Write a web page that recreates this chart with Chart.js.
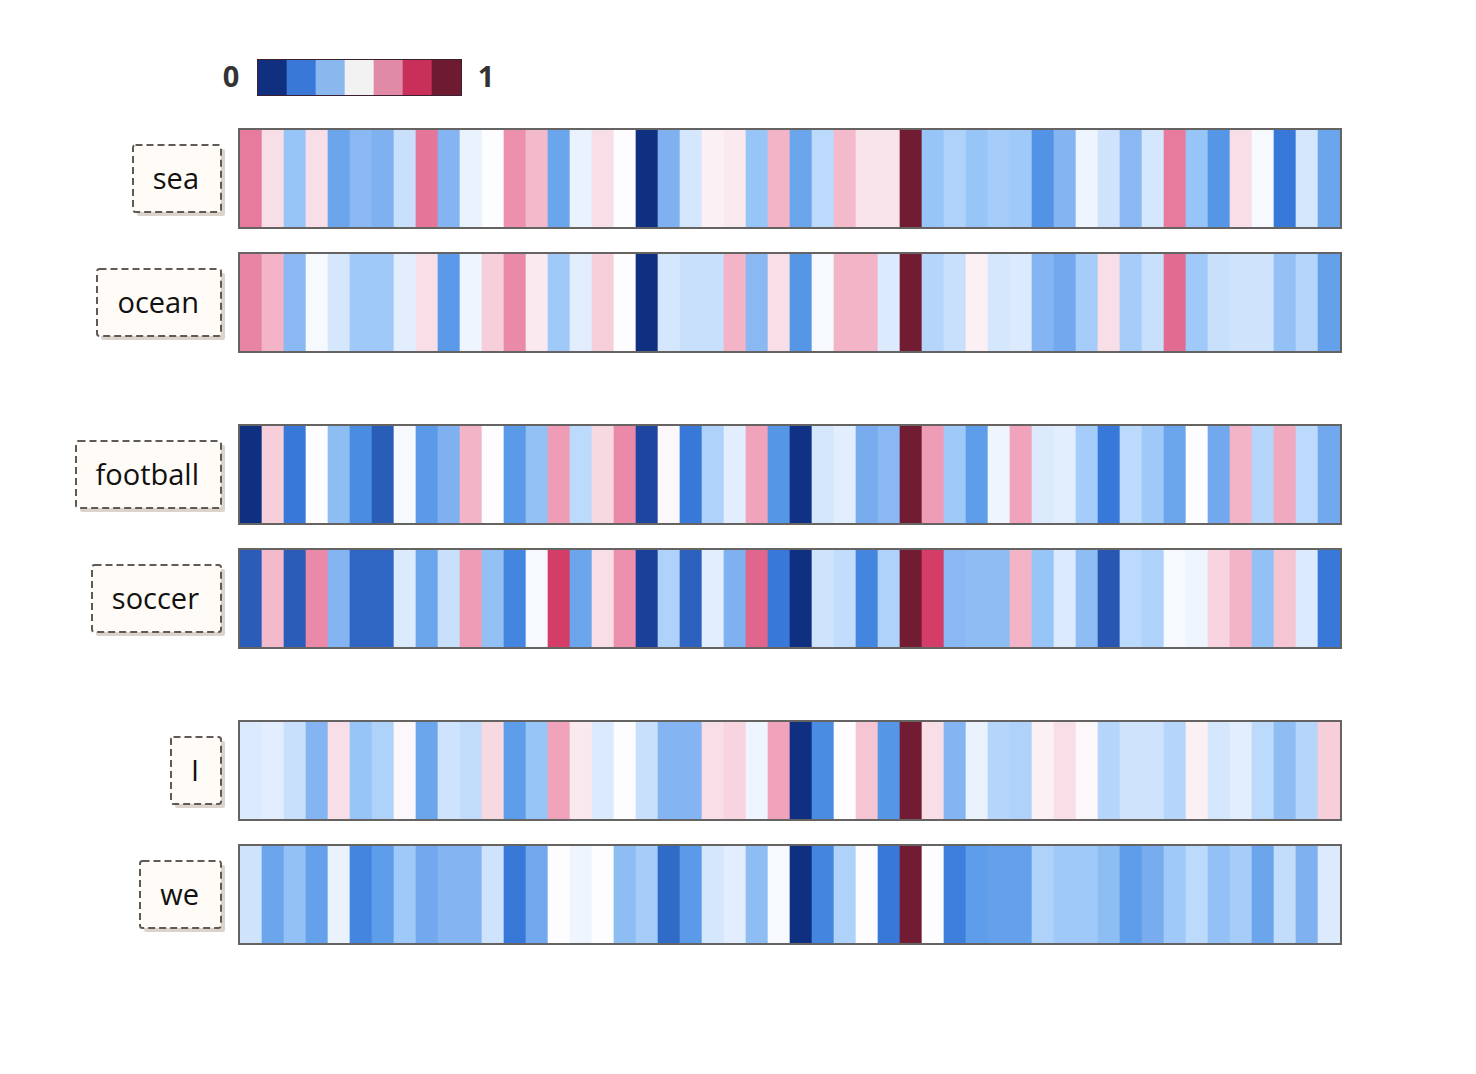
<!DOCTYPE html>
<html>
<head>
<meta charset="utf-8">
<script src="https://cdn.jsdelivr.net/npm/chart.js@4.4.0/dist/chart.umd.min.js"></script>
<style>
  html, body { margin:0; padding:0; background:#ffffff; width:1476px; height:1074px; overflow:hidden;
    font-family:"Open Sans", "Noto Sans", sans-serif; }
  .strip { position:absolute; left:238px; }
  .lbl { position:absolute; right:1255px; height:69px; box-sizing:border-box; padding:0 22px;
    font-size:29px; line-height:67px; color:#111; white-space:nowrap; z-index:2; }
  .box { position:absolute; z-index:1; overflow:visible; }
  .tick { position:absolute; top:56px; width:40px; text-align:center; font-size:29px; font-weight:bold;
    color:#333; line-height:40px; }
</style>
</head>
<body>
<div class="tick" style="left:211px">0</div>
<div class="tick" style="left:466px">1</div>
<canvas id="legend" width="205" height="37" style="position:absolute;left:257px;top:59px"></canvas>
<script>
// ---- data ----
const words = ["sea", "ocean", "football", "soccer", "I", "we"];
const dims = Array.from({length: 50}, (_, i) => "d" + (i + 1));

const seaVals = [0.73,0.55,0.35,0.55,0.27,0.32,0.30,0.42,0.74,0.31,0.47,0.50,0.69,0.62,0.27,0.47,0.55,0.50,0.00,0.30,
                 0.44,0.52,0.53,0.35,0.63,0.27,0.40,0.62,0.54,0.54,1.00,0.35,0.38,0.35,0.37,0.36,0.22,0.31,0.48,0.43,
                 0.32,0.44,0.73,0.35,0.23,0.55,0.49,0.17,0.44,0.27];
const oceanVals = [0.71,0.63,0.32,0.49,0.44,0.36,0.36,0.46,0.55,0.24,0.48,0.58,0.70,0.53,0.36,0.46,0.58,0.50,0.00,0.44,
                   0.42,0.42,0.63,0.32,0.55,0.23,0.49,0.63,0.63,0.45,1.00,0.39,0.42,0.52,0.44,0.45,0.31,0.28,0.37,0.55,
                   0.37,0.42,0.76,0.36,0.42,0.43,0.43,0.34,0.39,0.26];
const footballVals = [0.00,0.58,0.17,0.50,0.33,0.20,0.11,0.49,0.24,0.30,0.63,0.50,0.24,0.34,0.67,0.40,0.56,0.70,0.07,0.51,
                      0.17,0.38,0.46,0.66,0.23,0.01,0.44,0.46,0.29,0.32,1.00,0.67,0.36,0.25,0.48,0.66,0.45,0.46,0.37,0.17,
                      0.40,0.36,0.27,0.50,0.28,0.63,0.39,0.65,0.40,0.28];
const soccerVals = [0.11,0.62,0.11,0.70,0.31,0.13,0.13,0.45,0.27,0.42,0.67,0.34,0.19,0.49,0.82,0.27,0.55,0.69,0.06,0.38,
                    0.12,0.46,0.30,0.77,0.17,0.00,0.43,0.41,0.19,0.38,1.00,0.82,0.32,0.33,0.33,0.63,0.35,0.45,0.33,0.10,
                    0.40,0.38,0.49,0.48,0.57,0.63,0.34,0.60,0.45,0.17];
const iVals = [0.45,0.46,0.42,0.31,0.55,0.35,0.38,0.51,0.27,0.43,0.41,0.56,0.25,0.35,0.66,0.53,0.45,0.50,0.42,0.31,
               0.31,0.55,0.57,0.48,0.66,0.00,0.20,0.50,0.60,0.23,1.00,0.55,0.31,0.47,0.39,0.38,0.52,0.55,0.51,0.39,
               0.43,0.43,0.39,0.52,0.44,0.46,0.40,0.33,0.39,0.58];
const weVals = [0.43,0.27,0.34,0.26,0.47,0.19,0.25,0.36,0.28,0.31,0.31,0.43,0.17,0.28,0.50,0.48,0.50,0.33,0.37,0.14,
                0.24,0.44,0.46,0.33,0.49,0.00,0.19,0.38,0.50,0.17,1.00,0.50,0.18,0.25,0.26,0.26,0.38,0.36,0.36,0.33,
                0.25,0.29,0.36,0.40,0.34,0.37,0.27,0.41,0.30,0.45];

const legendTicks = ["0", "1"];
const legendBins = ["b1","b2","b3","b4","b5","b6","b7"];

// ---- styles ----
const legendColors = ["#10307f","#3a78d8","#8ab8ee","#f2f2f2","#e08aa8","#c8305a","#6e1a30"];
const cmapStops = [
  [0.00,"#0f2f80"],[0.06,"#1b409a"],[0.11,"#2a5db8"],[0.17,"#3878d8"],[0.20,"#4a8ce2"],
  [0.25,"#5e9de9"],[0.30,"#7fb0f0"],[0.35,"#98c5f7"],[0.40,"#bcdafb"],[0.45,"#dbeafc"],
  [0.50,"#fdfdff"],[0.55,"#f8dee6"],[0.60,"#f5c5d4"],[0.65,"#f1a9c0"],[0.70,"#eb8aa8"],
  [0.77,"#e0668e"],[0.82,"#d43d67"],[0.90,"#a52a4a"],[1.00,"#721c33"]
];
function hexToRgb(h){ return [parseInt(h.slice(1,3),16),parseInt(h.slice(3,5),16),parseInt(h.slice(5,7),16)]; }
function cmap(v){
  v = Math.max(0, Math.min(1, v));
  for (let i = 1; i < cmapStops.length; i++){
    const [p1,c1] = cmapStops[i-1], [p2,c2] = cmapStops[i];
    if (v <= p2){
      const t = (v - p1) / (p2 - p1);
      const a = hexToRgb(c1), b = hexToRgb(c2);
      return "rgb(" + a.map((x,k)=>Math.round(x + (b[k]-x)*t)).join(",") + ")";
    }
  }
  return cmapStops[cmapStops.length-1][1];
}

const frame = (color, width) => ({
  id: "frame",
  afterDraw(chart){
    const a = chart.chartArea, c = chart.ctx;
    c.save(); c.strokeStyle = color; c.lineWidth = width;
    c.strokeRect(a.left - width/2, a.top - width/2, a.right - a.left + width, a.bottom - a.top + width);
    c.restore();
  }
});

function stripChart(canvas, labels, vals, colors, pad, borderColor){
  return new Chart(canvas.getContext("2d"), {
    type: "bar",
    data: { labels: labels, datasets: [{
      data: vals.map(() => [0, 1]),
      backgroundColor: colors,
      borderWidth: 0, barPercentage: 1, categoryPercentage: 1
    }]},
    options: {
      responsive: false, animation: false, events: [],
      layout: { padding: pad },
      plugins: { legend: { display: false }, tooltip: { enabled: false } },
      scales: { x: { display: false }, y: { display: false, min: 0, max: 1 } }
    },
    plugins: [frame(borderColor, pad)]
  });
}

// legend bar
stripChart(document.getElementById("legend"), legendBins, legendBins, legendColors, 1, "#3a2030");

// rows
const rows = [seaVals, oceanVals, footballVals, soccerVals, iVals, weVals];
const rowTops = [128, 252, 424, 548, 720, 844];
const SVGNS = "http://www.w3.org/2000/svg";
rows.forEach((vals, r) => {
  const cv = document.createElement("canvas");
  cv.width = 1104; cv.height = 101; cv.className = "strip";
  cv.style.top = rowTops[r] + "px";
  document.body.appendChild(cv);
  stripChart(cv, dims, vals, vals.map(cmap), 2, "#666462");

  const lb = document.createElement("div");
  lb.className = "lbl";
  lb.textContent = words[r];
  const top = rowTops[r] + 16;
  lb.style.top = top + "px";
  document.body.appendChild(lb);

  // dashed box with shadow behind label
  const rect = lb.getBoundingClientRect();
  const w = Math.round(rect.width), h = 69;
  const left = 222 - w;
  const svg = document.createElementNS(SVGNS, "svg");
  svg.setAttribute("class", "box");
  svg.setAttribute("width", w + 8); svg.setAttribute("height", h + 8);
  svg.style.left = left + "px"; svg.style.top = top + "px";
  const sh = document.createElementNS(SVGNS, "rect");
  sh.setAttribute("x", 5); sh.setAttribute("y", 5);
  sh.setAttribute("width", w - 2); sh.setAttribute("height", h - 2); sh.setAttribute("rx", 2);
  sh.setAttribute("fill", "#dcd3cb");
  svg.appendChild(sh);
  const bx = document.createElementNS(SVGNS, "rect");
  bx.setAttribute("x", 1); bx.setAttribute("y", 1);
  bx.setAttribute("width", w - 2); bx.setAttribute("height", h - 2); bx.setAttribute("rx", 2.5);
  bx.setAttribute("fill", "#fffbf7"); bx.setAttribute("stroke", "#5e5a57");
  bx.setAttribute("stroke-width", 2); bx.setAttribute("stroke-dasharray", "7 4");
  svg.appendChild(bx);
  document.body.appendChild(svg);
});
</script>
</body>
</html>
